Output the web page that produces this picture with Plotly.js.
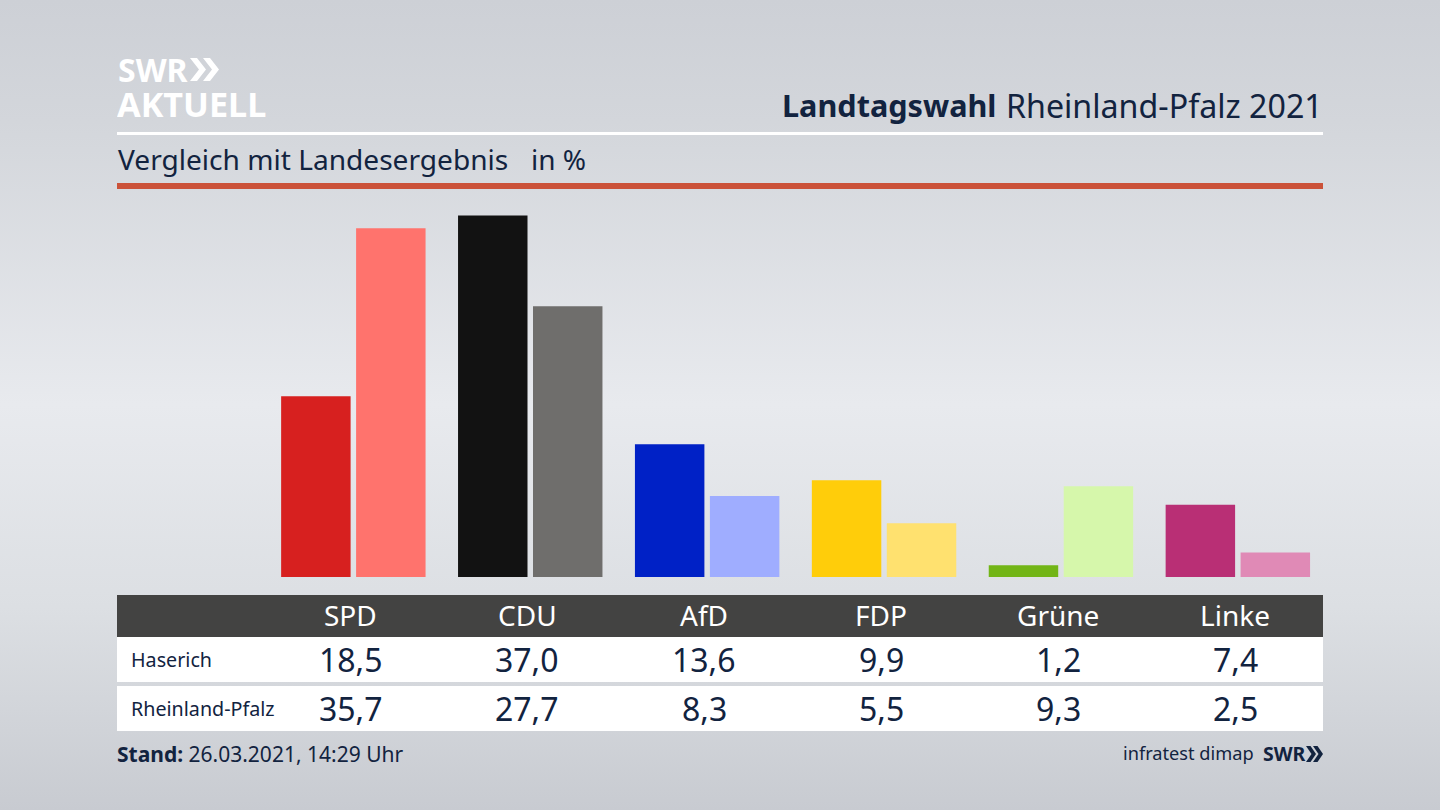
<!DOCTYPE html>
<html><head><meta charset="utf-8">
<script src="https://cdn.plot.ly/plotly-3.0.1.min.js"></script>
<style>
html,body{margin:0;padding:0;width:1440px;height:810px;overflow:hidden;
background:linear-gradient(180deg,#cdd0d6 0%,#d3d6db 15%,#e8eaee 50%,#dcdfe3 75%,#c8cbd1 100%);}
#chart{width:1440px;height:810px;}
</style></head><body><div id="chart"></div>
<script>
const parties = ['SPD','CDU','AfD','FDP','Grüne','Linke'];
const rowNames = ['Haserich','Rheinland-Pfalz'];
const haserich = [18.5,37.0,13.6,9.9,1.2,7.4];
const landesergebnis = [35.7,27.7,8.3,5.5,9.3,2.5];
const colorsHaserich = ['#d7201f','#121212','#0021c6','#ffcd0a','#72b516','#b92f75'];
const colorsLand = ['#ff736d','#6f6e6c','#9fadff','#ffe16f','#d6f7ab','#e08ab6'];
const NAVY = '#12233f', FONT = '"Noto Sans", "Open Sans", sans-serif';
const W = 1440, H = 810;
const STEP = 176.9;
const px = x => x / W, py = y => 1 - y / H;
const fmt = v => v.toFixed(1).replace('.', ',');
const colX = i => 350.5 + STEP * i;

function rect(x0, y0, x1, y1, color) {
  return {type:'rect', xref:'paper', yref:'paper', x0:px(x0), x1:px(x1), y0:py(y1), y1:py(y0),
          fillcolor:color, line:{width:0}, layer:'below'};
}
function chevron(x, y, h, w, t, color) {
  const p = (a, b) => px(a) + ',' + py(b);
  return {type:'path', xref:'paper', yref:'paper', fillcolor:color, line:{width:0},
    path:'M' + p(x, y) + 'L' + p(x + t, y) + 'L' + p(x + t + w, y + h / 2) + 'L' + p(x + t, y + h) +
         'L' + p(x, y + h) + 'L' + p(x + w, y + h / 2) + 'Z'};
}
function text(t, x, y, size, color, anchor, extra) {
  return Object.assign({text:t, xref:'paper', yref:'paper', x:px(x), y:py(y), showarrow:false,
    xanchor:anchor || 'left', yanchor:'middle', align:anchor || 'left',
    font:{family:FONT, size:size, color:color}, borderpad:0}, extra || {});
}

const shapes = [
  rect(117,132,1323,135,'#ffffff'),
  rect(117,183,1323,189,'#cb5239'),
  rect(117,595,1323,637,'#434342'),
  rect(117,637,1323,682,'#ffffff'),
  rect(117,686,1323,731,'#ffffff'),
  chevron(190,58,23,9,7,'#ffffff'), chevron(203,58,23,9,7,'#ffffff'),
  chevron(1306,746,16,5.5,4.5,NAVY), chevron(1313,746,16,5.5,4.5,NAVY)
];

const annotations = [
  text('<b>SWR</b>', 117, 68.5, 32, '#ffffff', 'left', {height:30}),
  text('<b>AKTUELL</b>', 116, 103, 34.2, '#ffffff', 'left', {height:32}),
  text('<b>Landtagswahl</b>', 997, 105.5, 30.6, NAVY, 'right'),
  text('Rheinland-Pfalz 2021', 1324, 105.5, 32.2, NAVY, 'right'),
  text('Vergleich mit Landesergebnis', 117, 159.5, 28.1, NAVY),
  text('in %', 530, 159.5, 28, NAVY),
  text('<b>Stand:</b> 26.03.2021, 14:29 Uhr', 116, 754, 21, NAVY),
  text('infratest dimap', 1121.5, 753, 18.2, NAVY),
  text('<b>SWR</b>', 1262, 753, 19.5, NAVY)
];
parties.forEach((p, i) => {
  annotations.push(text(p, colX(i), 615, 28, '#ffffff', 'center'));
  annotations.push(text(fmt(haserich[i]), colX(i), 659, 32, NAVY, 'center'));
  annotations.push(text(fmt(landesergebnis[i]), colX(i), 708, 32, NAVY, 'center'));
});
annotations.push(text(rowNames[0], 129.5, 659, 19.7, NAVY));
annotations.push(text(rowNames[1], 129.5, 708, 19.7, NAVY));

const traces = [
  {type:'bar', name:rowNames[0], x:parties, y:haserich, marker:{color:colorsHaserich, line:{width:0}}, hoverinfo:'skip'},
  {type:'bar', name:rowNames[1], x:parties, y:landesergebnis, marker:{color:colorsLand, line:{width:0}}, hoverinfo:'skip'}
];
const PXU = 9.77;
const layout = {
  width:W, height:H, margin:{l:0,r:0,t:0,b:0}, autosize:false,
  paper_bgcolor:'rgba(0,0,0,0)', plot_bgcolor:'rgba(0,0,0,0)',
  barmode:'group', bargap:27/177, bargroupgap:5.5/75, showlegend:false,
  xaxis:{type:'category', categoryorder:'array', categoryarray:parties, visible:false, range:[-0.5,5.5],
         domain:[264.9/W, (264.9+6*STEP)/W], fixedrange:true},
  yaxis:{visible:false, range:[0,(577-190)/PXU], domain:[(H-577)/H,(H-190)/H], fixedrange:true},
  shapes:shapes, annotations:annotations, font:{family:FONT}
};
Plotly.newPlot('chart', traces, layout, {displayModeBar:false, staticPlot:true});
</script></body></html>
